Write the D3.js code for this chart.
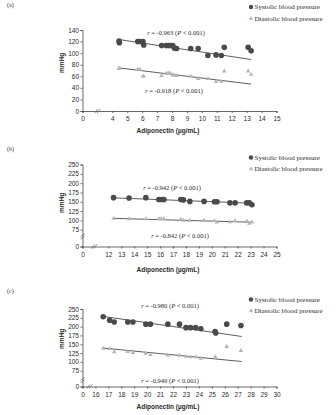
<!DOCTYPE html>
<html>
<head>
  <meta charset="UTF-8">
  <script src="https://d3js.org/d3.v7.min.js"></script>
  <title>Adiponectin and blood pressure</title>
  <style type="text/css">
    html, body { width:100%; height:100%; margin:0; background:#fff; }
  </style>
</head>
<body>
  <div class="content"></div>

  <script>
    // panel (a)
    var adipoA = [4.45, 4.47, 5.7, 5.85, 6.05, 6.1, 7.3, 7.6, 7.75, 7.9, 8.05, 8.15, 8.3, 9.25, 9.75, 10.4, 10.95, 11.3, 11.5, 13.1, 13.3];
    var sysA   = [121, 118, 120, 120, 120, 114, 113, 113, 113, 113, 113, 109, 108, 108, 108, 96, 97, 96, 110, 110, 104];
    var diaA   = [74, 73, 72, 72, 60, 60, 61, 65, 66, 65, 62, 62, 61, 60, 56, 56, 51, 51, 69, 69, 63];
    var fitA   = {x: [4.45, 13.3], sys: [123.5, 89], dia: [74.5, 46.5]};
    var yTicksA = [0, 20, 40, 60, 80, 100, 120, 140];
    var xTicksA = [4, 5, 6, 7, 8, 9, 10, 11, 12, 13, 14, 15];

    // panel (b)
    var adipoB = [12.4, 13.6, 14.9, 15.9, 16.1, 16.3, 17.6, 17.8, 18.3, 19.4, 20.2, 20.4, 21.4, 21.8, 22.7, 22.9, 23.1];
    var sysB   = [161, 160, 161, 156, 156, 156, 156, 155, 151, 151, 150, 150, 147, 147, 147, 147, 142];
    var diaB   = [105, 104, 104, 104, 104, 104, 103, 100, 100, 100, 99, 95, 96, 99, 98, 92, 95];
    var fitB   = {x: [12.4, 23.2], sys: [160.5, 146], dia: [105.5, 95]};
    var xTicksB = [12, 13, 14, 15, 16, 17, 18, 19, 20, 21, 22, 23, 24, 25];

    // panel (c)
    var adipoC = [16.6, 17.1, 17.45, 18.5, 18.9, 19.9, 20.25, 21.6, 22.5, 23.0, 23.35, 23.75, 24.15, 25.25, 25.3, 26.15, 27.25];
    var sysC   = [228, 218, 213, 213, 213, 207, 207, 207, 207, 197, 197, 197, 194, 186, 182, 207, 203];
    var diaC   = [138, 137, 128, 129, 126, 124, 120, 119, 118, 115, 114, 114, 110, 114, 112, 143, 132];
    var fitC   = {x: [16.6, 27.3], sys: [229, 172], dia: [139, 101]};
    var xTicksC = [16, 17, 18, 19, 20, 21, 22, 23, 24, 25, 26, 27, 28, 29, 30];

    var yTicksBC = [75, 100, 125, 150, 175, 200, 225, 250];

    var rLabels = {
      a: ["-0.963", "-0.918"],
      b: ["-0.942", "-0.842"],
      c: ["-0.980", "-0.949"]
    };

    var svgWidth = 336, svgHeight = 415;
    var sysColor = "#4a4a4a", diaColor = "#b5b5b5", axisColor = "#444", textColor = "#2b2b2b";
    var sansFont = "'Liberation Sans', Arial, sans-serif";
    var serifFont = "'Liberation Serif', 'DejaVu Serif', serif";

    var svg = d3.select(".content")
      .append("svg")
      .attr("width", svgWidth)
      .attr("height", svgHeight);

    var panels = [
      {id: "a", top: 7, x: adipoA, sys: sysA, dia: diaA, fit: fitA,
       xDomain: [2, 15], xTicks: xTicksA, xBreak: 3.0,
       yDomain: [0, 140], yRange: [111, 30], yTicks: yTicksA, yBreak: null,
       rSysPos: [176, 35], rDiaPos: [174, 92.5],
       legendY: 7, titleY: 132.5, unitY: 63},
      {id: "b", top: 151, x: adipoB, sys: sysB, dia: diaB, fit: fitB,
       xDomain: [10, 25], xTicks: xTicksB, xBreak: 10.9,
       yDomain: [30, 250], yRange: [246.5, 164.5], yTicks: yTicksBC, yBreak: 57,
       rSysPos: [172, 190], rDiaPos: [180, 238],
       legendY: 157.5, titleY: 271.5, unitY: 203},
      {id: "c", top: 293, x: adipoC, sys: sysC, dia: diaC, fit: fitC,
       xDomain: [15, 30], xTicks: xTicksC, xBreak: 15.55,
       yDomain: [30, 250], yRange: [386.5, 309], yTicks: yTicksBC, yBreak: 48,
       rSysPos: [170, 307.5], rDiaPos: [170, 382.5],
       legendY: 299.5, titleY: 408.5, unitY: 339}
    ];

    panels.forEach(function(p) {
      var g = svg.append("g").attr("class", "panel-" + p.id);

      var xScale = d3.scaleLinear().domain(p.xDomain).range([82.5, 276.5]);
      var yScale = d3.scaleLinear().domain(p.yDomain).range(p.yRange);

      // the first tick of a broken axis is labelled 0
      var xTickVals = [p.xDomain[0]].concat(p.xTicks);
      var yTickVals = p.yBreak === null ? p.yTicks : [p.yDomain[0]].concat(p.yTicks);

      var xAxis = g.append("g")
        .attr("transform", "translate(0," + p.yRange[0] + ")")
        .call(d3.axisBottom(xScale)
          .tickValues(xTickVals)
          .tickSize(2)
          .tickPadding(3.5)
          .tickFormat(function(d, i) { return i === 0 ? "0" : d; }));

      var yAxis = g.append("g")
        .attr("transform", "translate(82.5,0)")
        .call(d3.axisLeft(yScale)
          .tickValues(yTickVals)
          .tickSize(2)
          .tickPadding(1.5)
          .tickFormat(function(d, i) { return (p.yBreak !== null && i === 0) ? "0" : d; }));

      [xAxis, yAxis].forEach(function(ax) {
        ax.select(".domain").attr("stroke", axisColor).attr("stroke-width", 0.8);
        ax.selectAll(".tick line").attr("stroke", axisColor).attr("stroke-width", 0.8);
        ax.selectAll(".tick text")
          .attr("font-family", sansFont)
          .attr("font-size", 6.5)
          .attr("fill", textColor);
      });

      // break marks
      var bx = xScale(p.xBreak), by = p.yRange[0];
      [-1.2, 1.2].forEach(function(off) {
        g.append("line")
          .attr("x1", bx + off - 1.6).attr("y1", by + 2.2)
          .attr("x2", bx + off + 1.6).attr("y2", by - 2.2)
          .attr("stroke", axisColor).attr("stroke-width", 0.6);
      });
      if (p.yBreak !== null) {
        var ybx = 82.5, yby = yScale(p.yBreak);
        [-1.2, 1.2].forEach(function(off) {
          g.append("line")
            .attr("x1", ybx - 2).attr("y1", yby + off + 1.4)
            .attr("x2", ybx + 2).attr("y2", yby + off - 1.4)
            .attr("stroke", axisColor).attr("stroke-width", 0.6);
        });
      }

      // fitted lines
      var line = d3.line()
        .x(function(d) { return xScale(d[0]); })
        .y(function(d) { return yScale(d[1]); });

      ["sys", "dia"].forEach(function(k) {
        g.append("path")
          .datum(p.fit.x.map(function(v, i) { return [v, p.fit[k][i]]; }))
          .attr("d", line)
          .attr("fill", "none")
          .attr("stroke", "#333")
          .attr("stroke-width", 0.8);
      });

      // diastolic triangles
      g.selectAll(".dia")
        .data(p.x.map(function(v, i) { return [v, p.dia[i]]; }))
        .enter()
        .append("path")
        .attr("class", "dia")
        .attr("d", d3.symbol(d3.symbolTriangle).size(9))
        .attr("transform", function(d) { return "translate(" + xScale(d[0]) + "," + yScale(d[1]) + ")"; })
        .attr("fill", diaColor);

      // systolic dots
      g.selectAll(".sys")
        .data(p.x.map(function(v, i) { return [v, p.sys[i]]; }))
        .enter()
        .append("circle")
        .attr("class", "sys")
        .attr("cx", function(d) { return xScale(d[0]); })
        .attr("cy", function(d) { return yScale(d[1]); })
        .attr("r", 2.8)
        .attr("fill", sysColor);

      // correlation notes
      [[p.rSysPos, rLabels[p.id][0]], [p.rDiaPos, rLabels[p.id][1]]].forEach(function(n) {
        var t = g.append("text")
          .attr("x", n[0][0]).attr("y", n[0][1])
          .attr("text-anchor", "middle")
          .attr("font-family", serifFont)
          .attr("font-size", 6.5)
          .attr("fill", textColor);
        t.append("tspan").attr("font-style", "italic").text("r");
        t.append("tspan").text(" = " + n[1] + " (");
        t.append("tspan").attr("font-style", "italic").text("P");
        t.append("tspan").text(" < 0.001)");
      });

      // panel tag
      g.append("text")
        .attr("x", 7).attr("y", p.top)
        .attr("font-family", serifFont)
        .attr("font-size", 6)
        .attr("fill", textColor)
        .text("(" + p.id + ")");

      // axis titles
      g.append("text")
        .attr("x", 168).attr("y", p.titleY)
        .attr("text-anchor", "middle")
        .attr("font-family", sansFont)
        .attr("font-weight", "bold")
        .attr("font-size", 6.5)
        .attr("fill", textColor)
        .text("Adiponectin (\u00b5g/mL)");

      g.append("text")
        .attr("transform", "translate(64," + p.unitY + ") rotate(-90)")
        .attr("text-anchor", "middle")
        .attr("font-family", sansFont)
        .attr("font-weight", "bold")
        .attr("font-size", 6.5)
        .attr("fill", textColor)
        .text("mmHg");

      // legend
      var leg = g.append("g").attr("transform", "translate(251," + p.legendY + ")");
      leg.append("circle").attr("cx", 0).attr("cy", 0).attr("r", 2.2).attr("fill", sysColor);
      leg.append("text").attr("x", 3.5).attr("y", 2.3)
        .attr("font-family", serifFont).attr("font-size", 7)
        .attr("fill", textColor)
        .text("Systolic blood pressure");
      leg.append("path")
        .attr("d", d3.symbol(d3.symbolTriangle).size(8))
        .attr("transform", "translate(0,11.5)")
        .attr("fill", diaColor);
      leg.append("text").attr("x", 3.5).attr("y", 13.8)
        .attr("font-family", serifFont).attr("font-size", 7)
        .attr("fill", textColor)
        .text("Diastolic blood pressure");
    });
  </script>
</body>
</html>
